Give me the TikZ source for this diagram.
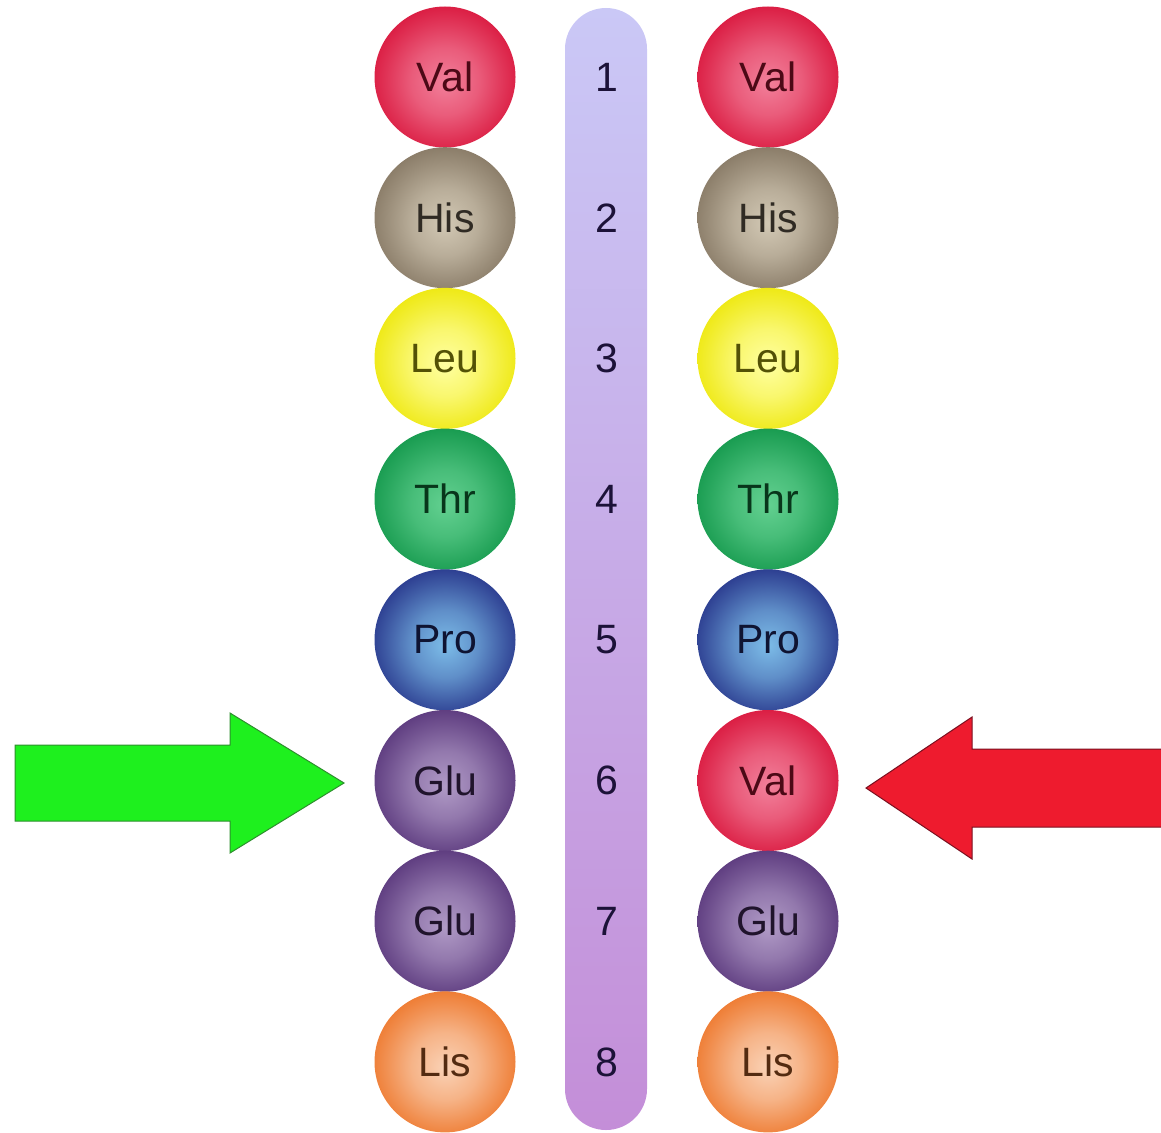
\documentclass[tikz,border=0pt]{standalone}
\usepackage{fontspec}
\setmainfont{Liberation Sans}
\definecolor{barTop}{HTML}{CAC8F6}
\definecolor{barBot}{HTML}{C48ED8}
\definecolor{valIn}{HTML}{F27F9A}\definecolor{valOut}{HTML}{DA1A40}
\definecolor{hisIn}{HTML}{D2C8B4}\definecolor{hisOut}{HTML}{887A66}
\definecolor{leuIn}{HTML}{FFFFA0}\definecolor{leuOut}{HTML}{EEE810}
\definecolor{thrIn}{HTML}{62D090}\definecolor{thrOut}{HTML}{169A4E}
\definecolor{proIn}{HTML}{7CBCE8}\definecolor{proOut}{HTML}{2A3A8E}
\definecolor{gluIn}{HTML}{B09AC6}\definecolor{gluOut}{HTML}{5C3A7E}
\definecolor{lisIn}{HTML}{FAD2B6}\definecolor{lisOut}{HTML}{EE7A30}
\definecolor{greenFill}{HTML}{1EF01E}\definecolor{greenLine}{HTML}{2E8E2E}
\definecolor{redFill}{HTML}{EE1B2E}\definecolor{redLine}{HTML}{7A1020}
\definecolor{numText}{HTML}{1C1238}
\colorlet{ballin}{white}\colorlet{ballout}{black}
\pgfdeclareradialshading[ballin,ballout]{ballshade}{\pgfpoint{0bp}{-2bp}}{%
  color(0bp)=(ballin); color(12bp)=(ballin!65!ballout); color(21bp)=(ballin!25!ballout);
  color(27bp)=(ballout); color(50bp)=(ballout)}
\begin{document}
\begin{tikzpicture}[x=1pt,y=-1pt,
  ball/.style={circle, minimum size=141pt, inner sep=0pt,
    /utils/exec={\colorlet{ballin}{#1In}\colorlet{ballout}{#1Out}},
    shading=ballshade, text=#1Out!35!black,
    font=\fontsize{41}{44}\selectfont},
  num/.style={text=numText, font=\fontsize{41}{44}\selectfont, inner sep=0pt},
  bigarrow/.style={line width=1pt, line join=miter}]
\useasboundingbox (0,0) rectangle (1161,1132);
% central bar
\shade[top color=barTop, bottom color=barBot, rounded corners=41pt]
  (565,8) rectangle (647,1130);
% rows
\foreach \i/\l/\lt/\r/\rt in {1/val/Val/val/Val, 2/his/His/his/His, 3/leu/Leu/leu/Leu,
  4/thr/Thr/thr/Thr, 5/pro/Pro/pro/Pro, 6/glu/Glu/val/Val, 7/glu/Glu/glu/Glu, 8/lis/Lis/lis/Lis}{
  \pgfmathsetmacro{\yy}{77+140.7*(\i-1)}
  \node[ball=\l] (L\i) at (445,\yy) {\lt};
  \node[ball=\r] (R\i) at (768,\yy) {\rt};
  \node[num] (N\i) at (607,\yy) {\i};
}
% green arrow pointing at L6
\coordinate (gtip) at (344,783);
\fill[greenFill, draw=greenLine, bigarrow]
  (15,745) -- (230,745) -- (230,713) -- (gtip) -- (230,853) -- (230,821) -- (15,821) -- cycle;
% red arrow pointing at R6
\coordinate (rtip) at (866,788);
\fill[redFill, draw=redLine, bigarrow]
  (rtip) -- (972,717) -- (972,749) -- (1163,749) -- (1163,827) -- (972,827) -- (972,859) -- cycle;
\end{tikzpicture}
\end{document}
